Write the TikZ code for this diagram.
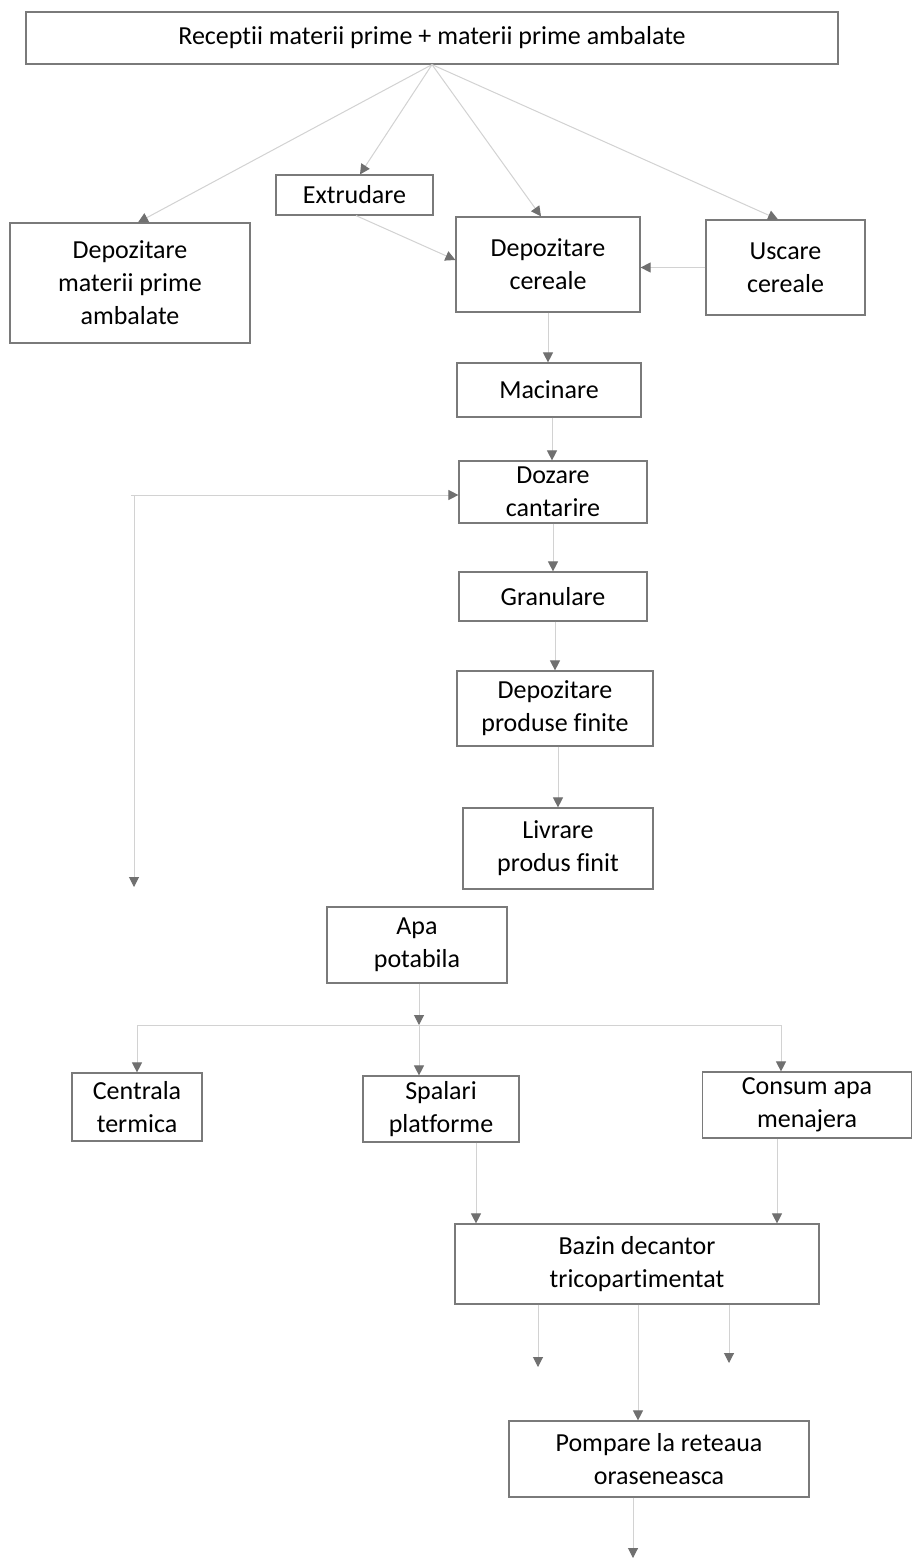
\documentclass[tikz,border=0pt]{standalone}
\usepackage{fontspec}
\setmainfont{Carlito}[Ligatures=NoCommon]
\usetikzlibrary{arrows.meta,calc}
\definecolor{boxgray}{HTML}{7A7A7A}
\definecolor{linegray}{HTML}{D2D2D2}
\definecolor{tipgray}{HTML}{707070}
\tikzset{
  box/.style={draw=boxgray, line width=1.2pt, rectangle, inner sep=0pt, align=center,
              font=\fontsize{26}{33}\selectfont, text=black},
  conn/.style={draw=linegray, line width=1pt,
               -{Triangle[length=10pt,width=10pt,color=tipgray,fill=tipgray]}},
  bothconn/.style={draw=linegray, line width=1pt,
               {Triangle[length=10pt,width=10pt,color=tipgray,fill=tipgray]}-{Triangle[length=10pt,width=10pt,color=tipgray,fill=tipgray]}},
  plain/.style={draw=linegray, line width=1pt},
}
\begin{document}
\begin{tikzpicture}[x=1pt,y=-1pt]
\useasboundingbox (0,0) rectangle (911,1562);
\fill[white] (0,0) rectangle (911,1562);

% boxes
\node[box, minimum width=812pt, minimum height=52pt] (top) at (432,38) {Receptii materii prime + materii prime ambalate};
\node[box, minimum width=240pt, minimum height=120pt] (dmp) at (130,283) {Depozitare\\materii prime\\ambalate};
\node[box, minimum width=157pt, minimum height=40pt] (extr) at (354.5,195) {Extrudare};
\node[box, minimum width=184pt, minimum height=95pt] (dcer) at (548,264.5) {Depozitare\\cereale};
\node[box, minimum width=159pt, minimum height=95pt] (usc) at (785.5,267.5) {Uscare\\cereale};
\node[box, minimum width=184pt, minimum height=54pt] (mac) at (549,390) {Macinare};
\node[box, minimum width=188pt, minimum height=62pt] (doz) at (553,492) {Dozare\\cantarire};
\node[box, minimum width=188pt, minimum height=49pt] (gran) at (553,596.5) {Granulare};
\node[box, minimum width=196pt, minimum height=75pt] (dpf) at (555,708.5) {Depozitare\\produse finite};
\node[box, minimum width=190pt, minimum height=81pt] (liv) at (558,848.5) {Livrare\\produs finit};
\node[box, minimum width=180pt, minimum height=76pt] (apa) at (417,945) {Apa\\potabila};
\node[box, minimum width=130pt, minimum height=68pt] (cen) at (137,1107) {Centrala\\termica};
\node[box, minimum width=156pt, minimum height=66pt] (spa) at (441,1109) {Spalari\\platforme};
\node[box, minimum width=209pt, minimum height=66pt] (cons) at (807,1105) {Consum apa\\menajera};
\node[box, minimum width=364pt, minimum height=80pt] (baz) at (637,1264) {Bazin decantor\\tricopartimentat};
\node[box, minimum width=300pt, minimum height=76pt] (pom) at (659,1459) {Pompare la reteaua\\oraseneasca};

% free ends
\coordinate (leftdown) at (134,887);
\coordinate (leftcorner) at (134,495);
\coordinate (hl) at (137,1025);
\coordinate (hm) at (419,1025);
\coordinate (hr) at (781,1025);
\coordinate (bzl) at (538,1367);
\coordinate (bzr) at (729,1363);
\coordinate (pend) at (633,1558);

% connectors from top box
\draw[conn] (top.south) -- (138,0 |- dmp.north);
\draw[conn] (top.south) -- (360,0 |- extr.north);
\draw[conn] (top.south) -- (541,0 |- dcer.north);
\draw[conn] (top.south) -- (778,0 |- usc.north);
\draw[conn] (356,0 |- extr.south) -- (dcer.west |- 0,260);
\draw[conn] (usc.west) -- (dcer.east |- usc.west);

% main column
\draw[conn] (dcer.south) -- (mac.north -| dcer.south);
\draw[conn] (552,0 |- mac.south) -- (552,0 |- doz.north);
\draw[bothconn] (leftdown) -- (leftcorner) -- (doz.west |- leftcorner);
\draw[plain] (leftcorner) -- ++(-3,0);
\draw[conn] (doz.south) -- (gran.north);
\draw[conn] (555,0 |- gran.south) -- (555,0 |- dpf.north);
\draw[conn] (558,0 |- dpf.south) -- (558,0 |- liv.north);

% water distribution
\draw[conn] (419,0 |- apa.south) -- (hm);
\draw[plain] (hl) -- (hr);
\draw[conn] (hl) -- (hl |- cen.north);
\draw[conn] (hm) -- (hm |- spa.north);
\draw[conn] (hr) -- (hr |- cons.north);

% to bazin
\draw[conn] (476,0 |- spa.south) -- (476,0 |- baz.north);
\draw[conn] (777,0 |- cons.south) -- (777,0 |- baz.north);

% from bazin
\draw[conn] (538,0 |- baz.south) -- (bzl);
\draw[conn] (729,0 |- baz.south) -- (bzr);
\draw[conn] (638,0 |- baz.south) -- (638,0 |- pom.north);
\draw[conn] (633,0 |- pom.south) -- (pend);
\end{tikzpicture}
\end{document}
